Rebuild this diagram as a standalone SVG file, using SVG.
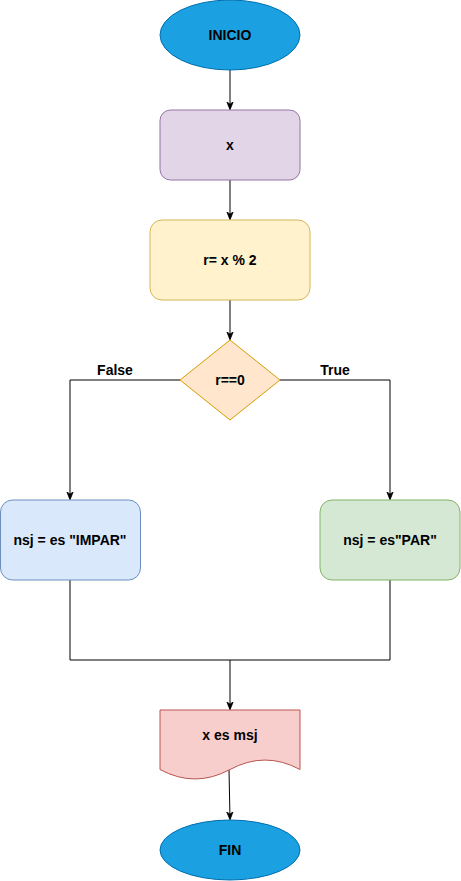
<svg xmlns="http://www.w3.org/2000/svg" width="461" height="881" viewBox="0 0 461 881">
  <style>
    text { font-family: "Liberation Sans", Arial, sans-serif; font-size: 14px; font-weight: bold; fill: #000; text-anchor: middle; }
    .edge { fill: none; stroke: #000; stroke-width: 1; }
    .term { fill: #1ba1e2; stroke: #006eaf; }
  </style>
  <defs>
    <marker id="arrow" viewBox="0 0 10 10" refX="9" refY="5" markerWidth="8" markerHeight="8" markerUnits="userSpaceOnUse" orient="auto">
      <path d="M0,1 L10,5 L0,9 L3,5 Z" fill="#000" stroke="#000" stroke-width="1"/>
    </marker>
  </defs>

  <g id="connectors">
    <path class="edge" d="M230,70 V109" marker-end="url(#arrow)"/>
    <path class="edge" d="M230,180 V219" marker-end="url(#arrow)"/>
    <path class="edge" d="M230,300 V339" marker-end="url(#arrow)"/>
    <path class="edge" d="M180,380 H70 V499" marker-end="url(#arrow)"/>
    <path class="edge" d="M280,380 H390 V499" marker-end="url(#arrow)"/>
    <path class="edge" d="M70,580 V660 H230 V709" marker-end="url(#arrow)"/>
    <path class="edge" d="M390,580 V660 H230"/>
    <path class="edge" d="M229,770 L230,819" marker-end="url(#arrow)"/>
    <text x="115" y="375">False</text>
    <text x="335" y="375">True</text>
  </g>

  <g id="inicio">
    <ellipse class="term" cx="230" cy="35" rx="70" ry="35"/>
    <text x="230" y="40">INICIO</text>
  </g>

  <g id="input-x">
    <rect x="160" y="110" width="140" height="70" rx="10.5" fill="#e1d5e7" stroke="#9673a6"/>
    <text x="230" y="150">x</text>
  </g>

  <g id="calc-r">
    <rect x="150" y="220" width="160" height="80" rx="12" fill="#fff2cc" stroke="#d6b656"/>
    <text x="230" y="265">r= x % 2</text>
  </g>

  <g id="decision">
    <path d="M230,340 L280,380 L230,420 L180,380 Z" fill="#ffe6cc" stroke="#d79b00"/>
    <text x="230" y="385">r==0</text>
  </g>

  <g id="impar">
    <rect x="0.5" y="500" width="140" height="80" rx="12" fill="#dae8fc" stroke="#6c8ebf"/>
    <text x="70" y="545">nsj = es "IMPAR"</text>
  </g>

  <g id="par">
    <rect x="320" y="500" width="140" height="80" rx="12" fill="#d5e8d4" stroke="#82b366"/>
    <text x="390" y="545">nsj = es"PAR"</text>
  </g>

  <g id="output">
    <path d="M160,710 H300 V769.5 Q265,750.6 230,769.5 Q195,788.4 160,769.5 Z" fill="#f8cecc" stroke="#b85450"/>
    <text x="230" y="740">x es msj</text>
  </g>

  <g id="fin">
    <ellipse class="term" cx="230" cy="850" rx="70" ry="30"/>
    <text x="230" y="855">FIN</text>
  </g>
</svg>
